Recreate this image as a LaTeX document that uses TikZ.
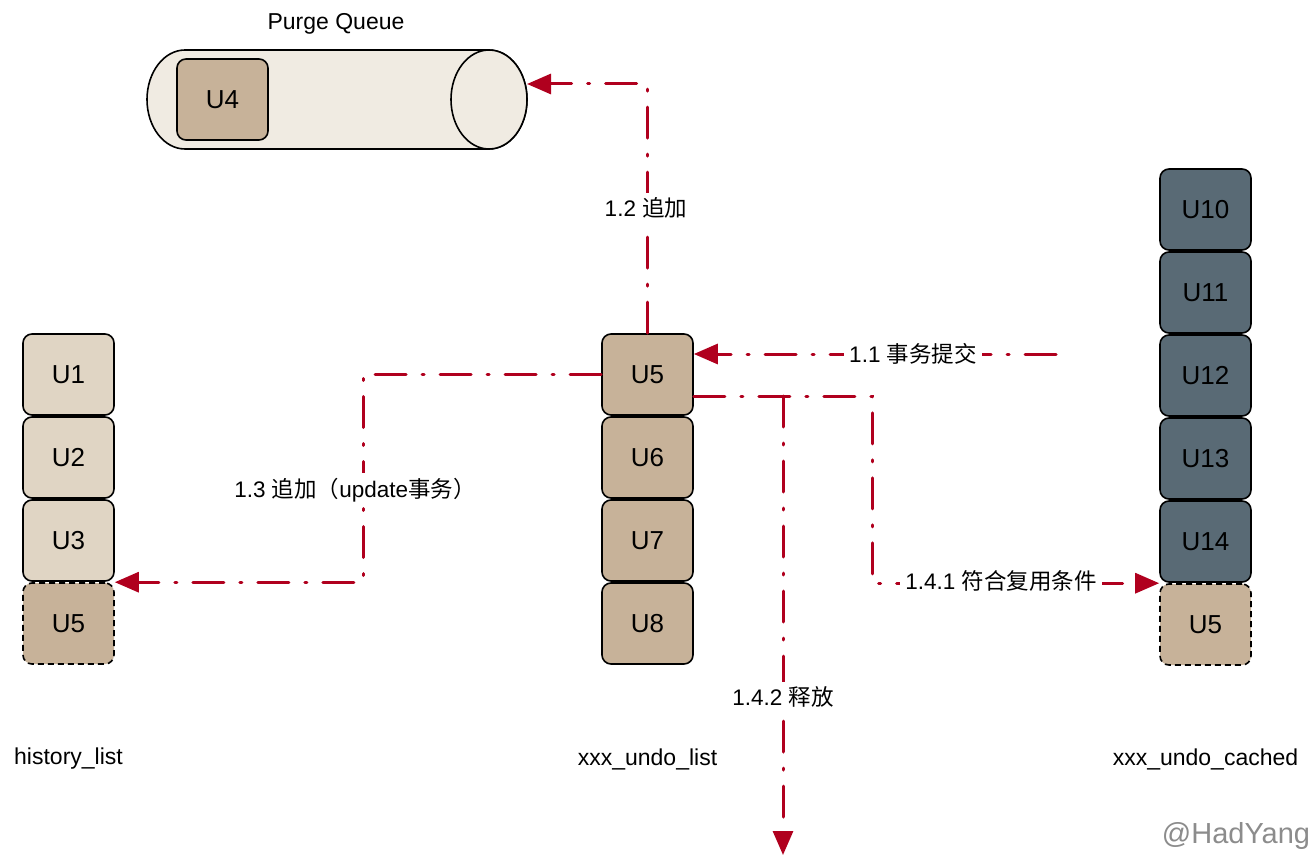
\documentclass[tikz,border=0pt]{standalone}
\usepackage{fontspec}
\setmainfont{Liberation Sans}
\newfontfamily\cjk{Noto Sans CJK SC}
\usetikzlibrary{arrows.meta,calc,positioning}
\definecolor{oldbox}{HTML}{E0D5C4}
\definecolor{undobox}{HTML}{C7B299}
\definecolor{cachebox}{HTML}{596A75}
\definecolor{queuefill}{HTML}{F0EBE2}
\definecolor{flowred}{HTML}{B0001E}

\begin{document}
\begin{tikzpicture}[x=1pt,y=-1pt,
        node distance=0.4pt,
        ublock/.style={draw,line width=1.6pt,rounded corners=9pt,minimum width=91pt,minimum height=81pt,inner sep=0pt,font=\fontsize{26}{26}\selectfont},
        spare/.style={ublock,dash pattern=on 6pt off 4pt},
        flow/.style={draw=flowred,line width=3pt,line cap=round,dash pattern=on 31pt off 16pt on 2pt off 16pt,-{Triangle[length=24pt,width=20pt]}},
        note/.style={fill=white,inner sep=5pt,font=\fontsize{22.5}{26}\selectfont},
        listname/.style={font=\fontsize{23}{26}\selectfont}
    ]
    \useasboundingbox (0,0) rectangle (1316,858);

    % --- Purge queue ---
    \draw[line width=1.6pt,fill=queuefill] (185,50) -- (489,50)
        arc[start angle=-90,end angle=90,x radius=38,y radius=49.5] -- (185,149)
        arc[start angle=90,end angle=270,x radius=38,y radius=49.5] -- cycle;
    \draw[line width=1.6pt,fill=queuefill] (489,99.5) ellipse[x radius=38,y radius=49.5];
    \coordinate (qtail) at (527,84);
    \node[listname] (qname) at (336,24) {Purge Queue};
    \node[ublock,fill=undobox] (q4) at (222.5,99.5) {U4};

    % --- history list ---
    \node[ublock,fill=oldbox] (h1) at (68.5,374.5) {U1};
    \node[ublock,fill=oldbox,below=of h1] (h2) {U2};
    \node[ublock,fill=oldbox,below=of h2] (h3) {U3};
    \node[spare,fill=undobox,below=of h3] (h5) {U5};
    \node[listname] (hname) at (68.5,759) {history\_list};

    % --- undo list ---
    \node[ublock,fill=undobox] (m5) at (647.5,374.5) {U5};
    \node[ublock,fill=undobox,below=of m5] (m6) {U6};
    \node[ublock,fill=undobox,below=of m6] (m7) {U7};
    \node[ublock,fill=undobox,below=of m7] (m8) {U8};
    \node[listname] (mname) at (647.5,759) {xxx\_undo\_list};

    % --- undo cached ---
    \node[ublock,fill=cachebox] (c10) at (1205.5,209.5) {U10};
    \node[ublock,fill=cachebox,below=of c10] (c11) {U11};
    \node[ublock,fill=cachebox,below=of c11] (c12) {U12};
    \node[ublock,fill=cachebox,below=of c12] (c13) {U13};
    \node[ublock,fill=cachebox,below=of c13] (c14) {U14};
    \node[spare,fill=undobox,below=of c14] (c5) {U5};
    \node[listname] (cname) at (1205.5,759) {xxx\_undo\_cached};

    % --- Flows ---
    \coordinate (commit) at (1056,354);
    \coordinate (fork) at (783,396);
    \coordinate (freed) at (783,855);
    \draw[flow] (commit) -- (m5.east |- commit);
    \draw[flow] (m5.north) -- (m5.north |- qtail) -- (qtail);
    \draw[flow] (m5.west) -- ++(-238,0) |- (h5.north east);
    \draw[flow] (m5.east |- fork) -- (872,396) |- (c5.north west);
    \draw[flow] (fork) -- (freed);

    % --- Flow labels ---
    \node[note] (l11) at (913,354) {1.1 {\cjk 事务提交}};
    \node[note] (l12) at (646,208) {1.2 {\cjk 追加}};
    \node[note] (l13) at (355,490) {1.3 {\cjk 追加（}update{\cjk 事务）}};
    \node[note] (l141) at (1001,581) {1.4.1 {\cjk 符合复用条件}};
    \node[note] (l142) at (783,697) {1.4.2 {\cjk 释放}};

    \node[font=\fontsize{29}{30}\selectfont,text=black!45] (mark) at (1236,836) {@HadYang};
\end{tikzpicture}
\end{document}
